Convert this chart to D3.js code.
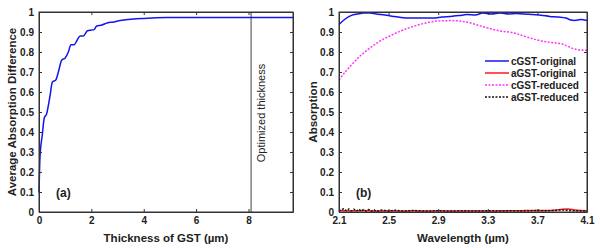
<!DOCTYPE html>
<meta charset="utf-8">
<style>
body{margin:0;background:#fff;}
text{font-family:"Liberation Sans",Arial,sans-serif;fill:#222;}
.tick text{font-weight:bold;font-size:10px;}
.lab{font-weight:bold;font-size:11.5px;}
</style>
<body>
<script src="https://cdnjs.cloudflare.com/ajax/libs/d3/7.8.5/d3.min.js"></script>
<script>
// panel (a)
var thickness = [0,0.04,0.13,0.2,0.29,0.42,0.51,0.64,0.74,0.87,1.0,1.12,1.22,1.34,1.46,1.57,1.69,1.85,2.0,2.1,2.2,2.4,2.6,2.85,3.1,3.6,4.0,4.9,6,8,9.7];
var avgDiff   = [0.097,0.28,0.39,0.47,0.49,0.58,0.65,0.66,0.70,0.76,0.77,0.80,0.836,0.836,0.86,0.88,0.88,0.906,0.91,0.912,0.93,0.935,0.945,0.95,0.957,0.965,0.968,0.972,0.973,0.973,0.973];
var optThickness = 8.1;

// panel (b)
var wlOrig  = [2.1,2.15,2.2,2.25,2.3,2.35,2.4,2.47,2.54,2.6,2.67,2.76,2.86,2.93,3.0,3.07,3.13,3.2,3.26,3.33,3.4,3.47,3.53,3.6,3.66,3.73,3.8,3.87,3.93,3.97,4.0,4.05,4.1];
var cOrig   = [0.937,0.965,0.983,0.99,0.995,0.995,0.99,0.985,0.978,0.973,0.97,0.97,0.97,0.975,0.978,0.982,0.987,0.985,0.995,0.99,0.995,0.99,0.992,0.99,0.987,0.984,0.978,0.975,0.97,0.96,0.958,0.962,0.958];
var wlRed   = [2.1,2.2,2.3,2.4,2.5,2.6,2.7,2.8,2.9,3.0,3.1,3.2,3.3,3.4,3.5,3.6,3.7,3.8,3.85,3.9,3.95,4.0,4.05,4.1];
var aOrig   = [0.008,0.006,0.007,0.005,0.006,0.005,0.006,0.005,0.006,0.005,0.005,0.006,0.005,0.006,0.006,0.007,0.008,0.008,0.01,0.014,0.015,0.01,0.007,0.006];
var wlRed2  = [2.1,2.15,2.19,2.23,2.27,2.31,2.35,2.39,2.43,2.47,2.51,2.55,2.59,2.63,2.67,2.72,2.8,2.9,3.0,3.1,3.2,3.3,3.4,3.5,3.6,3.7,3.8,3.9,4.0,4.1];
var cRed    = [0.66,0.70,0.728,0.755,0.78,0.80,0.82,0.838,0.855,0.868,0.88,0.892,0.903,0.913,0.922,0.932,0.945,0.955,0.957,0.953,0.938,0.92,0.905,0.897,0.878,0.86,0.848,0.84,0.815,0.808];
var wlBlack = [2.1,2.12,2.14,2.16,2.18,2.2,2.22,2.24,2.26,2.28,2.3,2.32,2.34,2.36,2.38,2.4,2.45,2.5,2.55,2.6,2.7,2.8,2.9,3.0,3.1,3.2,3.3,3.4,3.5,3.6,3.7,3.8,3.9,4.0,4.1];
var aRed    = [0.004,0.012,0.016,0.006,0.015,0.005,0.014,0.005,0.013,0.004,0.012,0.004,0.012,0.004,0.011,0.004,0.01,0.004,0.009,0.005,0.007,0.005,0.006,0.005,0.006,0.005,0.006,0.005,0.006,0.005,0.007,0.006,0.01,0.006,0.005];

var legendNames = ["cGST-original","aGST-original","cGST-reduced","aGST-reduced"];
var legendColors = ["#1414f0","#ff1a1a","#ff33ff","#111"];
var legendDash = [null,null,"2,1.5","2,1.5"];

var svg = d3.select("body").append("svg").attr("width",600).attr("height",248);

var yTicks = d3.range(0,1.01,0.1);
var fmtY = function(d){ return d3.format("~g")(+d.toFixed(1)); };

function frame(g, x, y, xt, xfmt){
  var W = x.range()[1], H = y.range()[0];
  g.append("g").attr("transform","translate(0,"+H+")")
    .call(d3.axisBottom(x).tickValues(xt).tickFormat(xfmt).tickSizeInner(-3).tickSizeOuter(0).tickPadding(5));
  g.append("g").call(d3.axisTop(x).tickValues(xt).tickFormat("").tickSizeInner(-3).tickSizeOuter(0));
  g.append("g").call(d3.axisLeft(y).tickValues(yTicks).tickFormat(fmtY).tickSizeInner(-3).tickSizeOuter(0).tickPadding(5));
  g.append("g").attr("transform","translate("+W+",0)")
    .call(d3.axisRight(y).tickValues(yTicks).tickFormat("").tickSizeInner(-3).tickSizeOuter(0));
  g.selectAll(".domain").attr("stroke","#333");
  g.selectAll(".tick line").attr("stroke","#333");
  g.append("rect").attr("width",W).attr("height",H).attr("fill","none").attr("stroke","#333").attr("stroke-width",1);
}

// (a)
var ga = svg.append("g").attr("transform","translate(39,12)");
var xa = d3.scaleLinear().domain([0,9.7]).range([0,254]);
var ya = d3.scaleLinear().domain([0,1]).range([200,0]);
ga.append("line").attr("x1",xa(optThickness)).attr("x2",xa(optThickness)).attr("y1",0).attr("y2",200)
  .attr("stroke","#7f7f7f").attr("stroke-width",1.5);
ga.append("path").datum(d3.zip(thickness,avgDiff))
  .attr("d",d3.line().x(d=>xa(d[0])).y(d=>ya(d[1])).curve(d3.curveMonotoneX))
  .attr("fill","none").attr("stroke","#1414f0").attr("stroke-width",1.5);
frame(ga, xa, ya, [0,2,4,6,8], d3.format("d"));
ga.append("text").attr("transform","translate("+(xa(optThickness)+14)+",101) rotate(-90)")
  .attr("text-anchor","middle").style("font-size","11px").text("Optimized thickness");
ga.append("text").attr("class","lab").attr("x",17).attr("y",185).style("font-size","12px").text("(a)");
svg.append("text").attr("class","lab").attr("x",166).attr("y",242).attr("text-anchor","middle").text("Thickness of GST (µm)");
svg.append("text").attr("class","lab").attr("transform","translate(16,112) rotate(-90)").attr("text-anchor","middle").text("Average Absorption Difference");

// (b)
var gb = svg.append("g").attr("transform","translate(339,12)");
var xb = d3.scaleLinear().domain([2.1,4.1]).range([0,248]);
var yb = d3.scaleLinear().domain([0,1]).range([200,0]);
var lineB = d3.line().x(d=>xb(d[0])).y(d=>yb(d[1])).curve(d3.curveMonotoneX);
var series = [[wlOrig,cOrig],[wlRed,aOrig],[wlRed2,cRed],[wlBlack,aRed]];
[1,3,0,2].forEach(function(i){
  gb.append("path").datum(d3.zip(series[i][0],series[i][1]))
    .attr("d",lineB).attr("fill","none").attr("stroke",legendColors[i])
    .attr("stroke-width",1.5).attr("stroke-dasharray",legendDash[i]);
});
frame(gb, xb, yb, [2.1,2.5,2.9,3.3,3.7,4.1], d3.format(".1f"));
gb.append("text").attr("class","lab").attr("x",17).attr("y",185).style("font-size","12px").text("(b)");
var leg = gb.selectAll(".leg").data(legendNames).enter().append("g").attr("transform",(d,i)=>"translate(146,"+(49+i*12)+")");
leg.append("line").attr("x1",0).attr("x2",24).attr("stroke",(d,i)=>legendColors[i]).attr("stroke-width",1.5)
  .attr("stroke-dasharray",(d,i)=>legendDash[i]);
leg.append("text").attr("x",26).attr("y",3.5).style("font-weight","bold").style("font-size","10px").text(d=>d);
svg.append("text").attr("class","lab").attr("x",463).attr("y",242).attr("text-anchor","middle").text("Wavelength (µm)");
svg.append("text").attr("class","lab").attr("transform","translate(317,112) rotate(-90)").attr("text-anchor","middle").text("Absorption");
</script>
</body>
